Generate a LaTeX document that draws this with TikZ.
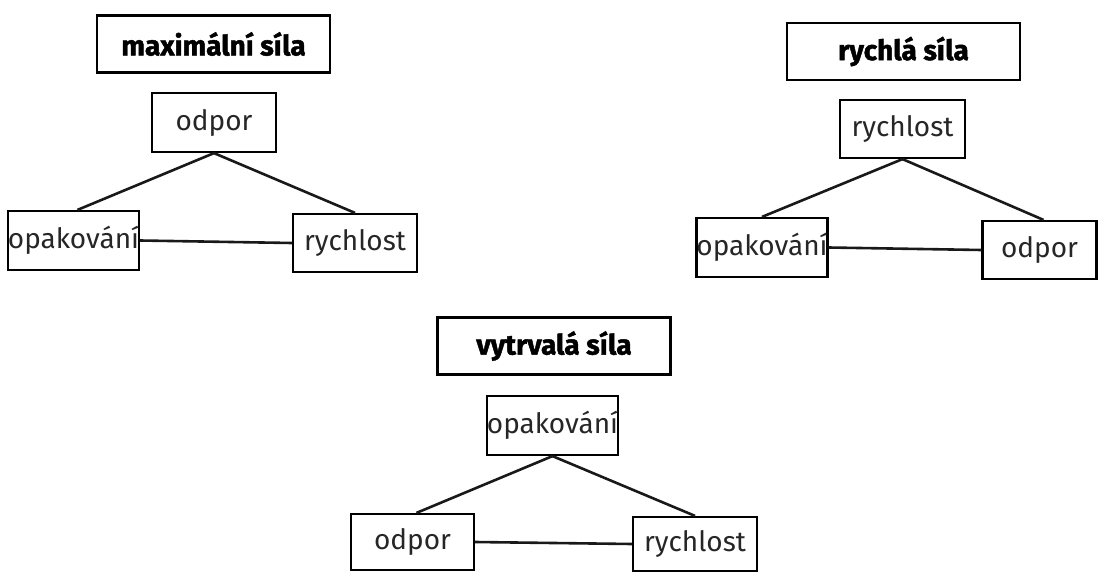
\documentclass[tikz,border=0pt]{standalone}
\usepackage{fontspec}
\setmainfont{Fira Sans}
\newfontfamily\titlefont[BoldFeatures={FakeBold=1.6}]{Fira Sans}
\begin{document}
\begin{tikzpicture}[x=1pt,y=-1pt,
  lbl/.style={draw=black, line width=2.2pt, inner sep=0pt, font=\fontsize{28}{32}\selectfont, text=black!85},
  ttl/.style={draw=black, line width=2.6pt, inner sep=0pt, minimum width=233pt, minimum height=57pt, font=\titlefont\fontsize{28}{32}\selectfont\bfseries},
  link/.style={line width=2.6pt, draw=black!90}]
\useasboundingbox (0,0) rectangle (1100,572);
% left triangle
\node[ttl] (t1) at (213.5,44) {maximální síla};
\node[lbl, minimum width=124pt, minimum height=59pt] (a1) at (214,122.5) {odpor};
\node[lbl, minimum width=123pt, minimum height=59pt] (b1) at (73.5,240.5) {opakování};
\node[lbl, minimum width=124pt, minimum height=58pt] (c1) at (355,243) {rychlost};
\draw[link] (a1.south) -- ([xshift=4pt]b1.north);
\draw[link] (a1.south) -- (c1.north);
\draw[link] (b1.east) -- (c1.west);
% right triangle
\node[ttl] (t2) at (903.5,51.5) {rychlá síla};
\node[lbl, minimum width=125pt, minimum height=58pt] (a2) at (902.5,129) {rychlost};
\node[lbl, minimum width=124pt, minimum height=59pt] (b2) at (762,247.5) {opakování};
\node[lbl, minimum width=114pt, minimum height=58pt] (c2) at (1039.5,250) {odpor};
\draw[link] (a2.south) -- (b2.north);
\draw[link] (a2.south) -- ([xshift=4pt]c2.north);
\draw[link] (b2.east) -- (c2.west);
% bottom triangle
\node[ttl] (t3) at (554,346) {vytrvalá síla};
\node[lbl, minimum width=125pt, minimum height=59pt] (a3) at (552.5,425.5) {opakování};
\node[lbl, minimum width=123pt, minimum height=56pt] (b3) at (412.5,542) {odpor};
\node[lbl, minimum width=124pt, minimum height=54pt] (c3) at (695,544) {rychlost};
\draw[link] (a3.south) -- ([xshift=4pt]b3.north);
\draw[link] (a3.south) -- (c3.north);
\draw[link] (b3.east) -- (c3.west);
\end{tikzpicture}
\end{document}
